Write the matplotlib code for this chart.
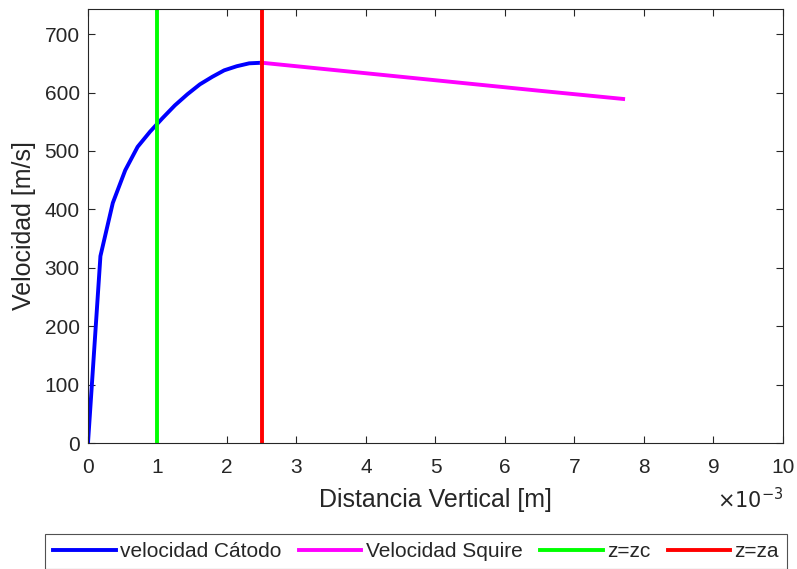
import numpy as np
import matplotlib.pyplot as plt

plt.rcParams['font.family'] = ['Liberation Sans', 'DejaVu Sans']

# cathode velocity (z in m, v in m/s)
z_cat = [0, 0.179e-3, 0.357e-3, 0.536e-3, 0.714e-3, 0.893e-3, 1.071e-3, 1.25e-3,
         1.43e-3, 1.61e-3, 1.79e-3, 1.96e-3, 2.14e-3, 2.32e-3, 2.5e-3]
v_cat = [0, 320, 411, 467, 507, 533, 556, 578, 597, 614, 627, 638, 645, 650, 651]

# Squire velocity
z_sq = [2.5e-3, 3.5e-3, 4.5e-3, 5.5e-3, 6.5e-3, 7.7e-3]
v_sq = [651, 639, 627, 615, 603, 589]

zc = 1e-3
za = 2.5e-3
legend_labels = ['velocidad Cátodo', 'Velocidad Squire', 'z=zc', 'z=za']

dark = '#262626'

fig = plt.figure(figsize=(7.97, 5.69), dpi=100)
ax = fig.add_axes([0.1104, 0.2214, 0.872, 0.7628])

lw = 2.8
ax.plot(z_cat, v_cat, color='#0000ff', lw=lw, label=legend_labels[0])
ax.plot(z_sq, v_sq, color='#ff00ff', lw=lw, label=legend_labels[1])
ax.axvline(zc, color='#00ff00', lw=lw, label=legend_labels[2])
ax.axvline(za, color='#ff0000', lw=lw, label=legend_labels[3])

ax.set_xlim(0, 0.01)
ax.set_ylim(0, 743)
ax.set_xticks(np.arange(0, 0.0101, 0.001))
ax.set_xticklabels([str(i) for i in range(11)])
ax.set_yticks(np.arange(0, 701, 100))

ax.tick_params(direction='in', top=True, right=True, length=5, width=0.8,
               colors=dark, labelsize=15)
ax.tick_params(axis='x', pad=11)
ax.tick_params(axis='y', pad=6)
for s in ax.spines.values():
    s.set_color(dark)
    s.set_linewidth(0.8)

ax.set_xlabel('Distancia Vertical [m]', fontsize=18, color=dark, labelpad=8)
ax.set_ylabel('Velocidad [m/s]', fontsize=18, color=dark, labelpad=6)

fig.text(0.983, 0.1072, r'$\times 10^{-3}$', ha='right', va='baseline',
         fontsize=15, color=dark)

leg = fig.legend(loc='center', bbox_to_anchor=(0.522, 0.0308), ncol=4,
                 fontsize=15, handlelength=3.0, columnspacing=0.85,
                 handletextpad=0.2, fancybox=False, borderpad=0.37,
                 borderaxespad=0, edgecolor=dark)
leg.get_frame().set_linewidth(0.8)
for t in leg.get_texts():
    t.set_color(dark)

fig.savefig('out.png', dpi=100)
